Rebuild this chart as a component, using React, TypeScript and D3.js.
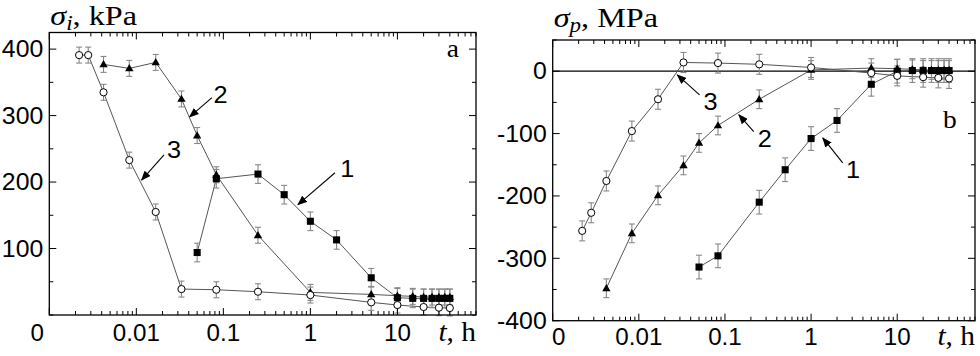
import React from "react";
import * as d3 from "d3";

// times, h (same sampling in both panels)
const tSquares = [0.05, 0.083, 0.25, 0.5, 1, 2, 5, 10, 15, 20, 25, 30, 35, 40];
const tTriangles = [0.0042, 0.0083, 0.0167, 0.033, 0.05, 0.083, 0.25, 1, 5, 10, 15, 20, 25, 30, 35, 40];
const tCircles = [0.0022, 0.0028, 0.0042, 0.0083, 0.0167, 0.033, 0.083, 0.25, 1, 5, 10, 20, 30, 40];

// panel a: sigma_i, kPa
const squaresA = [94, 205, 212, 181, 141, 113, 56, 26, 25, 25, 25, 25, 25, 25];
const trianglesA = [377, 371, 380, 325, 270, 211, 120, 34, 31, 29, 28, 27, 27, 27, 27, 27];
const circlesA = [391, 391, 335, 233, 155, 39, 38, 35, 30, 19, 15, 12, 11, 10.5];
const errA = [14, 12, 12];

// panel b: sigma_p, MPa
const squaresB = [-314, -296, -210, -158, -108, -79, -21, 0, 1, 1, 1, 1, 1, 1];
const trianglesB = [-348, -260, -199, -151, -115, -87, -45, 2, 5, 4, 3, 2, 2, 2, 2, 2];
const circlesB = [-256, -227, -176, -96, -45, 14, 13, 11, 6, -3, -7.5, -9.6, -10.7, -11.7];
const errB = [19, 15, 16];

const xDomain = [0.001, 80];
const xLabels = ["0", "0.01", "0.1", "1", "10"];
const yTicksA = [100, 200, 300, 400];
const yTicksB = [-400, -300, -200, -100, 0];

// annotations: [label, text t, text v, arrow tail t, tail v, head t, head v]
const notesA: [string, number, number, number, number, number, number][] = [
  ["2", 0.077, 319, 0.074, 327, 0.041, 298],
  ["3", 0.0225, 236, 0.0208, 241, 0.0115, 203],
  ["1", 2.2, 208, 1.92, 214, 0.72, 166],
];
const notesB: [string, number, number, number, number, number, number][] = [
  ["3", 0.0565, -62, 0.0507, -38, 0.028, -6],
  ["2", 0.24, -122, 0.216, -97, 0.145, -70],
  ["1", 2.55, -171, 2.33, -147, 1.37, -107],
];

type Shape = "square" | "triangle" | "circle";
const sans = "Liberation Sans, Arial, sans-serif";
const serif = "Liberation Serif, Times New Roman, serif";

// text stretched a little horizontally, like the scanned figure
function T(props: { x: number; y: number; sx?: number; anchor?: string; size: number; family: string; dy?: string; children: React.ReactNode }) {
  return (
    <g transform={`translate(${props.x},${props.y}) scale(${props.sx ?? 1.1},1)`}>
      <text x={0} y={0} dy={props.dy} textAnchor={props.anchor || "start"} fontFamily={props.family} fontSize={props.size} fill="#000">
        {props.children}
      </text>
    </g>
  );
}

function Panel(props: {
  left: number; right: number; top: number; bottom: number;
  yDomain: [number, number]; yTicks: number[]; yMinor: number;
  series: { t: number[]; v: number[]; err: number; shape: Shape }[];
  notes: [string, number, number, number, number, number, number][];
  letter: string; letterAt: [number, number];
  title: [string, string, string]; titleY: number; zeroShift: number; labelY: number;
  zeroLine?: boolean;
}) {
  const { left, right, top, bottom } = props;
  const x = d3.scaleLog().domain(xDomain).range([left, right]);
  const y = d3.scaleLinear().domain(props.yDomain).range([bottom, top]);
  const xt = x.ticks();
  const isMajor = (d: number) => Math.abs(Math.log10(d) - Math.round(Math.log10(d))) < 1e-6;
  const yMinor = d3.range(props.yDomain[0], props.yDomain[1] + 1e-6, props.yMinor).filter((d) => !props.yTicks.includes(d));
  const line = d3.line<[number, number]>().x((d) => x(d[0])).y((d) => y(d[1]));
  const majors = xt.filter(isMajor);

  const marker = (shape: Shape, cx: number, cy: number, k: number) => {
    if (shape === "circle")
      return <circle key={k} cx={cx} cy={cy} r={3.6} fill="#fff" stroke="#000" strokeWidth={1} />;
    const sym = shape === "square" ? d3.symbol(d3.symbolSquare, 50) : d3.symbol(d3.symbolTriangle, 30);
    return <path key={k} d={sym() || ""} transform={`translate(${cx},${cy + (shape === "triangle" ? 0.5 : 0)})`} fill="#000" />;
  };

  return (
    <g>
      {props.zeroLine && <line x1={left} x2={right} y1={y(0)} y2={y(0)} stroke="#000" strokeWidth={1.2} />}
      {/* connecting lines */}
      {props.series.map((s, i) => (
        <path key={"l" + i} d={line(s.t.map((t, j) => [t, s.v[j]] as [number, number])) || ""} fill="none" stroke="#555" strokeWidth={1} />
      ))}
      {/* error bars */}
      {props.series.map((s, i) =>
        s.t.map((t, j) => {
          const cx = x(t), y1 = y(s.v[j] + s.err), y2 = y(s.v[j] - s.err);
          return (
            <g key={"e" + i + "-" + j} stroke="#888" strokeWidth={1.1}>
              <line x1={cx} x2={cx} y1={y1} y2={y2} />
              <line x1={cx - 3} x2={cx + 3} y1={y1} y2={y1} />
              <line x1={cx - 3} x2={cx + 3} y1={y2} y2={y2} />
            </g>
          );
        })
      )}
      {props.series.map((s, i) => (
        <g key={"m" + i}>{s.t.map((t, j) => marker(s.shape, x(t), y(s.v[j]), j))}</g>
      ))}
      {/* frame and inward ticks */}
      <rect x={left} y={top} width={right - left} height={bottom - top} fill="none" stroke="#000" strokeWidth={1.3} />
      <g stroke="#000" strokeWidth={1}>
        {xt.map((d, i) => {
          const len = isMajor(d) ? 7 : 4;
          return (
            <g key={"xt" + i}>
              <line x1={x(d)} x2={x(d)} y1={bottom} y2={bottom - len} />
              <line x1={x(d)} x2={x(d)} y1={top} y2={top + len} />
            </g>
          );
        })}
        {props.yTicks.concat(yMinor).map((d, i) => {
          const len = props.yTicks.includes(d) ? 7 : 4;
          return (
            <g key={"yt" + i}>
              <line x1={left} x2={left + len} y1={y(d)} y2={y(d)} />
              <line x1={right} x2={right - len} y1={y(d)} y2={y(d)} />
            </g>
          );
        })}
      </g>
      {props.yTicks.map((d) => (
        <T key={"yl" + d} x={left - 6} y={y(d)} dy="0.36em" anchor="end" size={23} family={sans} sx={1.08}>{d}</T>
      ))}
      {majors.map((d, i) => (
        <T key={"xl" + i} x={x(d) + (i === 0 ? props.zeroShift : 0)} y={props.labelY} anchor="middle" size={23} family={sans} sx={1.05}>{xLabels[i]}</T>
      ))}
      <T x={right} y={props.labelY} anchor="end" size={28} family={serif} sx={1.05}>
        <tspan fontStyle="italic">t</tspan>, h
      </T>
      <T x={left + 1} y={props.titleY} size={28} family={serif} sx={1.15}>
        <tspan fontStyle="italic">{props.title[0]}</tspan>
        <tspan fontStyle="italic" fontSize={20} dy={5}>{props.title[1]}</tspan>
        <tspan dy={-5}>{props.title[2]}</tspan>
      </T>
      <T x={x(props.letterAt[0])} y={y(props.letterAt[1])} size={25} family={serif}>{props.letter}</T>
      {props.notes.map((n, i) => (
        <g key={"n" + i}>
          <line x1={x(n[3])} y1={y(n[4])} x2={x(n[5])} y2={y(n[6])} stroke="#000" strokeWidth={1.1} markerEnd="url(#arrowhead)" />
          <T x={x(n[1])} y={y(n[2])} size={23} family={sans}>{n[0]}</T>
        </g>
      ))}
    </g>
  );
}

export default function App() {
  return (
    <svg width={980} height={356} style={{ position: "absolute", left: 0, top: 0, background: "#fff" }}>
      <defs>
        <marker id="arrowhead" markerUnits="userSpaceOnUse" markerWidth={10} markerHeight={8} refX={9} refY={4} orient="auto">
          <path d="M0,0 L10,4 L0,8 Z" fill="#000" />
        </marker>
      </defs>
      <Panel
        left={49.3} right={476} top={32.5} bottom={315}
        yDomain={[0, 425]} yTicks={yTicksA} yMinor={50}
        series={[
          { t: tSquares, v: squaresA, err: errA[0], shape: "square" },
          { t: tTriangles, v: trianglesA, err: errA[1], shape: "triangle" },
          { t: tCircles, v: circlesA, err: errA[2], shape: "circle" },
        ]}
        notes={notesA} letter="a" letterAt={[37, 388]}
        title={["σ", "i", ", kPa"]} titleY={25} zeroShift={-12} labelY={341}
      />
      <Panel
        left={552.7} right={975} top={40} bottom={320.7}
        yDomain={[-400, 50]} yTicks={yTicksB} yMinor={50}
        series={[
          { t: tSquares, v: squaresB, err: errB[0], shape: "square" },
          { t: tTriangles, v: trianglesB, err: errB[1], shape: "triangle" },
          { t: tCircles, v: circlesB, err: errB[2], shape: "circle" },
        ]}
        notes={notesB} letter="b" letterAt={[34, -91]}
        title={["σ", "p", ", MPa"]} titleY={27} zeroShift={6} labelY={345} zeroLine
      />
    </svg>
  );
}
